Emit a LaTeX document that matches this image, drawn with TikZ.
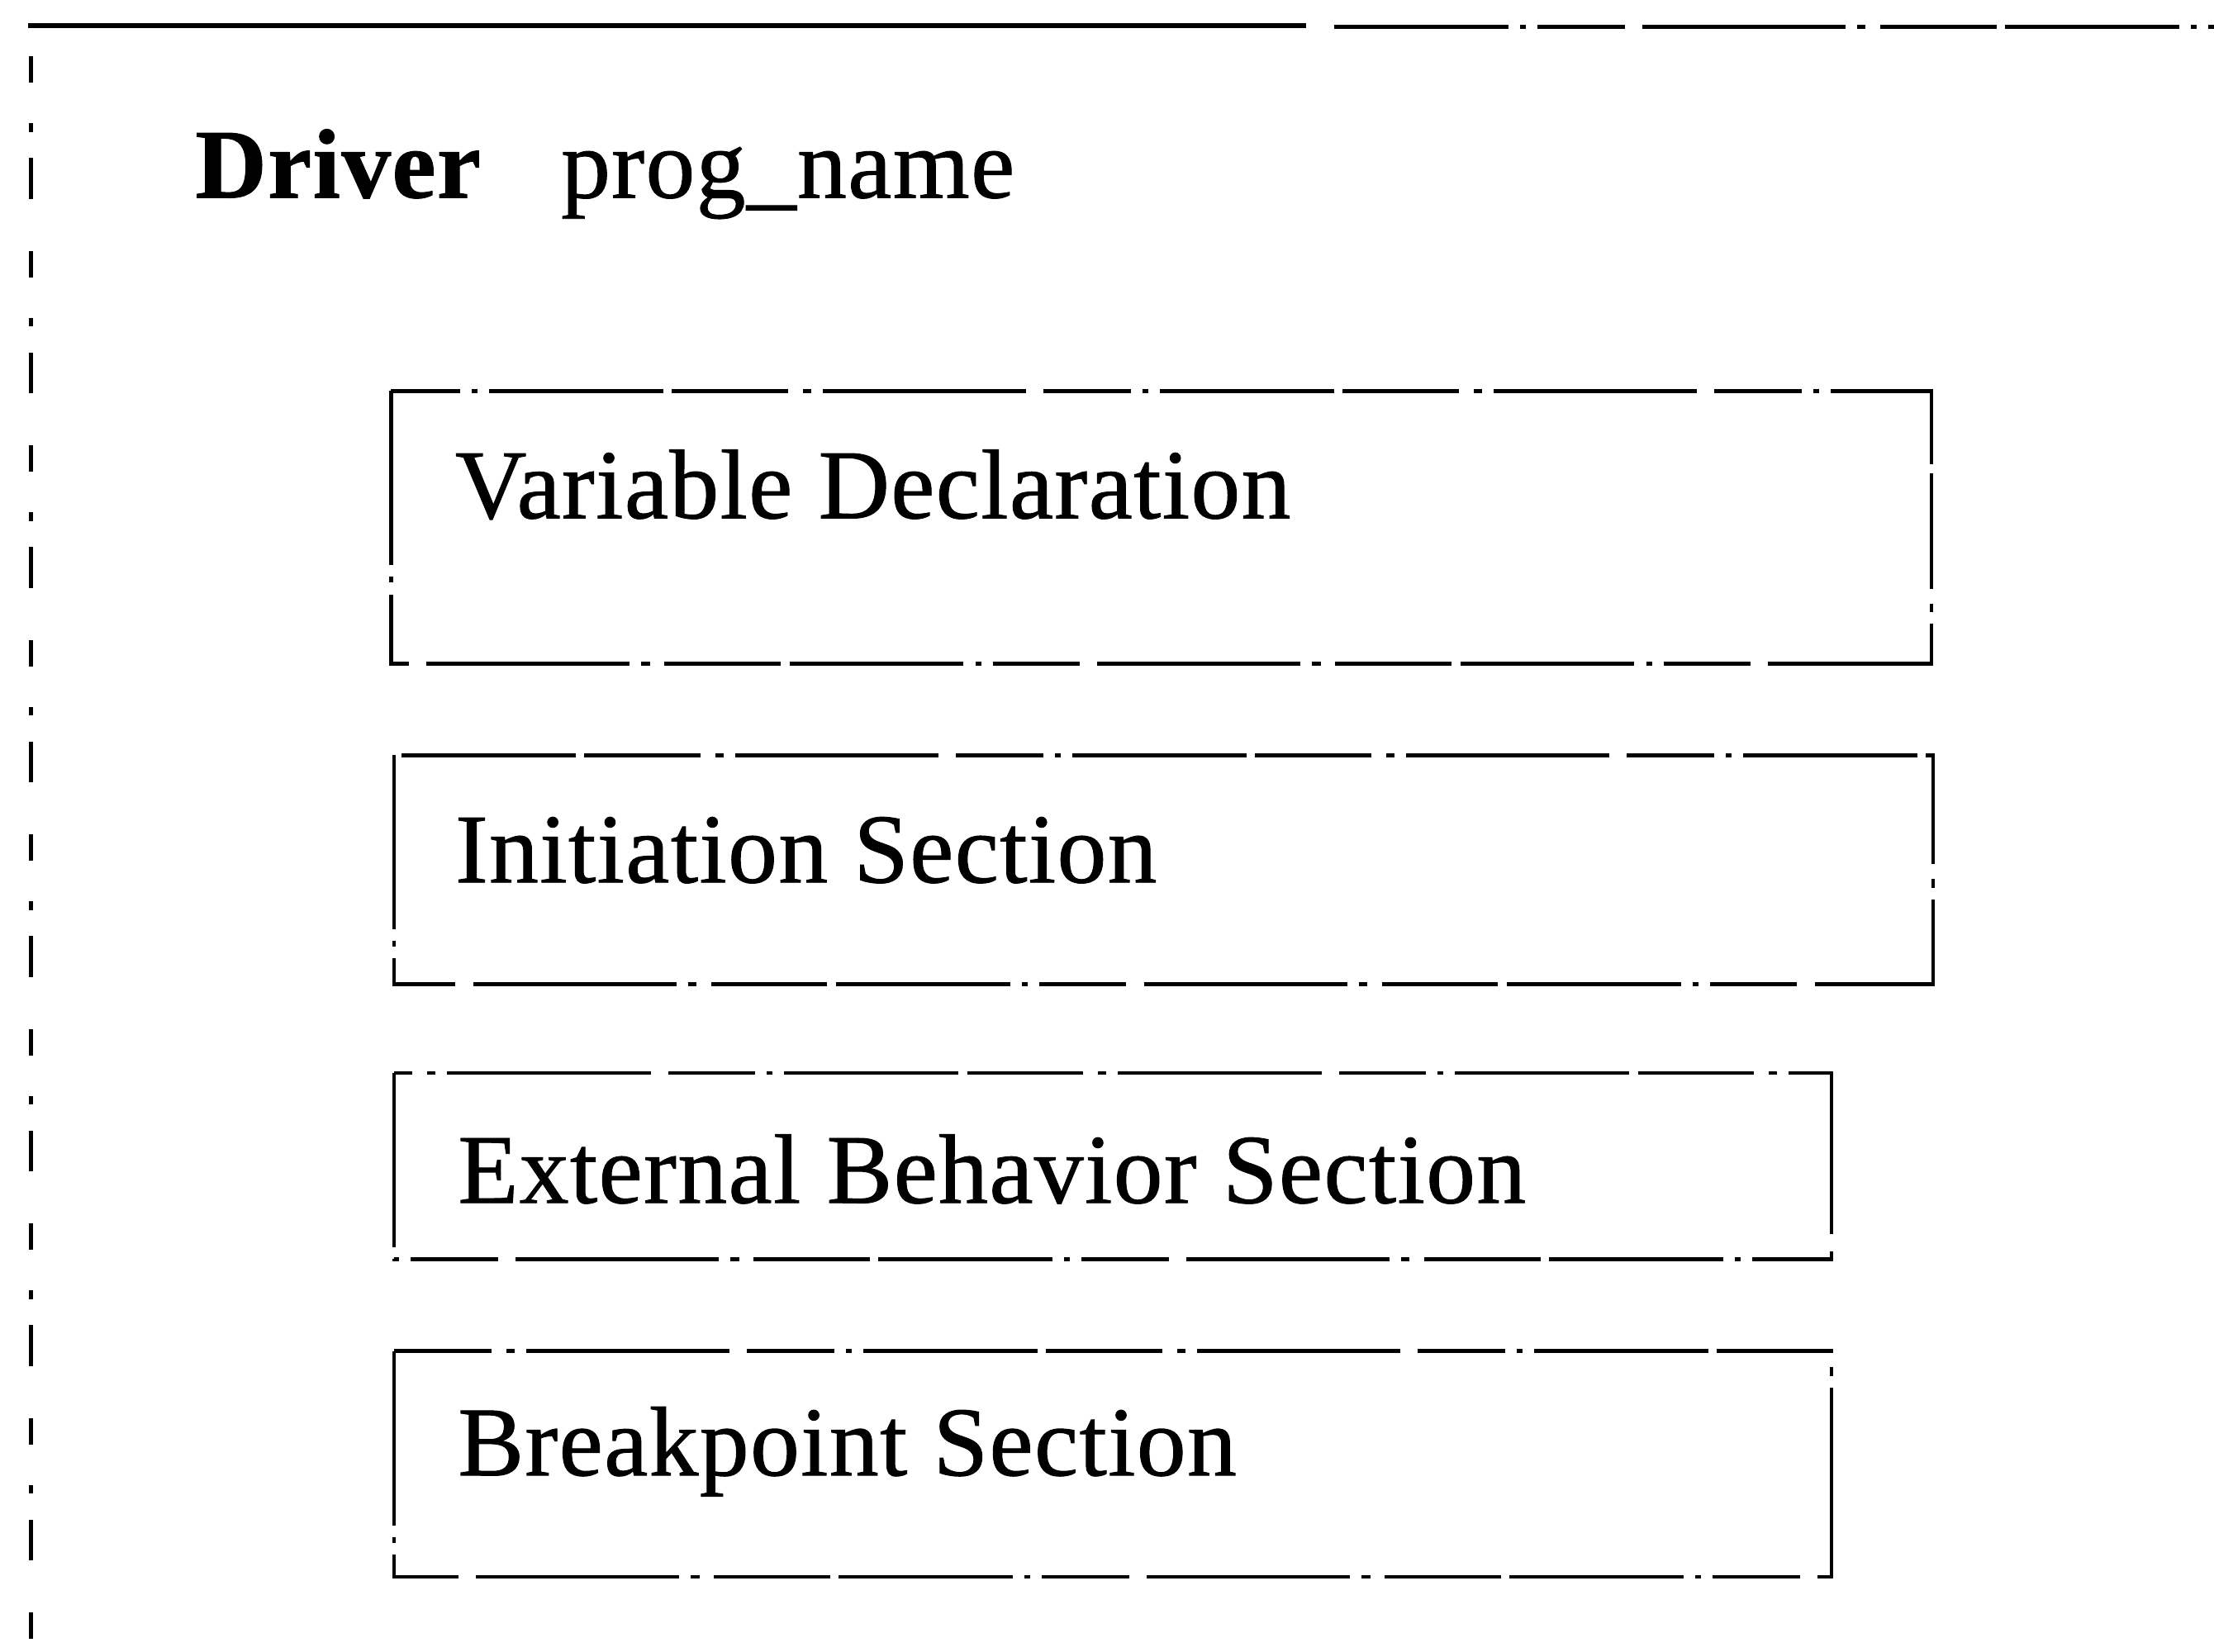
\documentclass[tikz,border=0pt]{standalone}
\usepackage{fontspec}
\setmainfont{Liberation Serif}[LetterSpace=1.2,FakeBold=0.8]
\begin{document}
\begin{tikzpicture}[x=0.01709cm,y=-0.01709cm,
  scanline/.style={line width=1.3pt,dash pattern=on 60pt off 4pt on 2pt off 4pt on 30pt off 6pt on 70pt off 4pt on 3pt off 5pt on 40pt off 3pt},
  sparseline/.style={line width=1.3pt,dash pattern=on 9pt off 14pt on 3pt off 9pt on 14pt off 18pt},
  toprule/.style={line width=1.6pt},
  lbl/.style={font=\fontsize{34pt}{40pt}\selectfont,inner sep=0pt,anchor=base west}]
\useasboundingbox (0,0) rectangle (1568,1170);
% outer frame (only top and left edges visible)
\coordinate (tl) at (20,18);
\coordinate (tm) at (925,18);
\coordinate (tm2) at (945,19);
\coordinate (tr) at (1568,19);
\coordinate (lt) at (22,40);
\coordinate (lb) at (22,1168);
\draw[toprule] (tl) -- (tm);
\draw[scanline] (tm2) -- (tr);
\draw[sparseline] (lt) -- (lb);
% title
\node[lbl,font=\fontsize{34pt}{40pt}\selectfont\bfseries] (drv) at (138,140) {Driver};
\node[lbl] (prog) at (397,140) {prog\_name};
% boxes
\coordinate (b1a) at (277,277); \coordinate (b1b) at (1368,470);
\coordinate (b2a) at (279,535); \coordinate (b2b) at (1369,697);
\coordinate (b3a) at (279,760); \coordinate (b3b) at (1297,892);
\coordinate (b4a) at (279,957); \coordinate (b4b) at (1297,1117);
\draw[scanline] (b1a) rectangle (b1b);
\draw[scanline] (b2a) rectangle (b2b);
\draw[scanline] (b3a) rectangle (b3b);
\draw[scanline] (b4a) rectangle (b4b);
\node[lbl] (t1) at (322,367) {Variable Declaration};
\node[lbl] (t2) at (322,625) {Initiation Section};
\node[lbl] (t3) at (324,852) {External Behavior Section};
\node[lbl] (t4) at (324,1045) {Breakpoint Section};
\end{tikzpicture}
\end{document}
